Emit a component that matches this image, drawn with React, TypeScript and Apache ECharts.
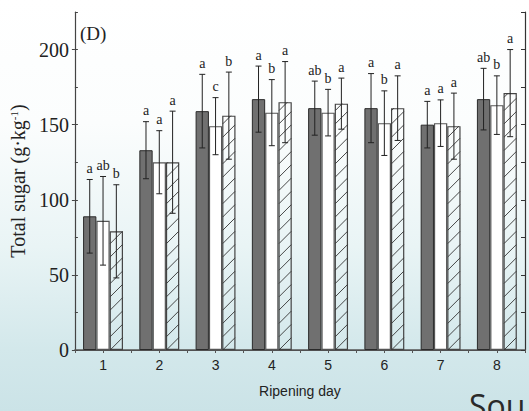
import React, { useEffect, useRef } from "react";
import * as echarts from "echarts";

const categories = ["1", "2", "3", "4", "5", "6", "7", "8"];
const darkValues = [89, 133, 159, 167, 161, 161, 150, 167];
const darkErr = [24.5, 19, 24.5, 22, 18, 23, 15.5, 20.5];
const darkLetters = ["a", "a", "a", "a", "ab", "a", "a", "ab"];
const whiteValues = [86, 125, 149, 158, 158, 151, 151, 163];
const whiteErr = [29.5, 21, 19, 22, 15.5, 21.5, 15.5, 19.5];
const whiteLetters = ["ab", "a", "c", "b", "b", "b", "a", "b"];
const hatchValues = [79, 125, 156, 165, 164, 161, 149, 171];
const hatchErr = [31, 34, 29, 27, 17, 21.5, 22, 29];
const hatchLetters = ["b", "a", "b", "a", "a", "a", "a", "a"];
const yTicks = [0, 50, 100, 150, 200];

const BW = 13.3;
const SERIF = '"Liberation Serif", "DejaVu Serif", serif';
const SANS = '"Liberation Sans", Arial, sans-serif';

function errorSeries(values: number[], errs: number[], letters: string[], k: number) {
  return {
    type: "custom",
    xAxisIndex: 0,
    yAxisIndex: 0,
    z: 5,
    clip: false,
    encode: { x: 0, y: [1, 2] },
    data: values.map((v, i) => [i, v - errs[i], v + errs[i]]),
    renderItem: (params: any, api: any) => {
      const idx = api.value(0);
      const lo = api.coord([idx, api.value(1)]);
      const hi = api.coord([idx, api.value(2)]);
      const x = lo[0] + (k - 1) * BW;
      const cap = 3;
      const st = { stroke: "#222", lineWidth: 1 };
      return {
        type: "group",
        children: [
          { type: "line", shape: { x1: x, y1: hi[1], x2: x, y2: lo[1] }, style: st },
          { type: "line", shape: { x1: x - cap, y1: hi[1], x2: x + cap, y2: hi[1] }, style: st },
          { type: "line", shape: { x1: x - cap, y1: lo[1], x2: x + cap, y2: lo[1] }, style: st },
          {
            type: "text",
            x: x,
            y: hi[1] - 4,
            style: {
              text: letters[params.dataIndex],
              textAlign: "center",
              textVerticalAlign: "bottom",
              font: `14px ${SERIF}`,
              fill: "#222",
            },
          },
        ],
      };
    },
  };
}

const hatchSeries = {
  type: "custom",
  xAxisIndex: 0,
  yAxisIndex: 0,
  z: 4,
  encode: { x: 0, y: 1 },
  data: hatchValues.map((v, i) => [i, v]),
  renderItem: (params: any, api: any) => {
    const idx = api.value(0);
    const base = api.coord([idx, 0]);
    const top = api.coord([idx, api.value(1)]);
    const xc = base[0] + BW;
    const x0 = xc - BW / 2 + 0.5;
    const x1 = xc + BW / 2 - 0.5;
    const yb = base[1];
    const yt = top[1];
    const s = BW;
    const children: any[] = [];
    for (let j = -2; j < 60; j++) {
      const c = x0 + yb - j * s;
      const xa = Math.max(x0, c - yb);
      const xb = Math.min(x1, c - yt);
      if (xb > xa + 0.3) {
        children.push({
          type: "line",
          shape: { x1: xa, y1: c - xa, x2: xb, y2: c - xb },
          style: { stroke: "#333", lineWidth: 0.9 },
        });
      }
    }
    return { type: "group", children };
  },
};

export default function App() {
  const ref = useRef<HTMLDivElement>(null);
  useEffect(() => {
    if (!ref.current) return;
    const chart = echarts.init(ref.current, undefined, { renderer: "svg" });
    chart.setOption({
      animation: false,
      backgroundColor: "transparent",
      grid: { left: 72, top: 12, right: 4, bottom: 61, containLabel: false },
      xAxis: [
        {
          type: "category",
          data: categories,
          position: "bottom",
          axisLine: { lineStyle: { color: "#444", width: 1.2 } },
          axisTick: { inside: true, length: 3, lineStyle: { color: "#444" } },
          axisLabel: { fontFamily: SANS, fontSize: 14, color: "#222", margin: 8 },
          name: "Ripening day",
          nameLocation: "middle",
          nameGap: 34,
          nameTextStyle: { fontFamily: SANS, fontSize: 14, color: "#222" },
          splitLine: { show: false },
        },
        {
          type: "value",
          position: "top",
          min: 0,
          max: 16,
          interval: 1,
          axisLine: { show: true, lineStyle: { color: "#555", width: 1.5 } },
          axisTick: { show: true, inside: true, length: 3, lineStyle: { color: "#555" } },
          axisLabel: { show: false },
          splitLine: { show: false },
        },
      ],
      yAxis: [
        {
          type: "value",
          min: 0,
          max: 225,
          interval: 50,
          position: "left",
          axisLine: { show: true, lineStyle: { color: "#444", width: 1.2 } },
          axisTick: { show: true, inside: false, length: 3, lineStyle: { color: "#444" } },
          axisLabel: {
            fontFamily: SERIF,
            fontSize: 20,
            color: "#222",
            margin: 6,
            showMaxLabel: false,
            formatter: (v: number) => (yTicks.indexOf(v) >= 0 ? String(v) : ""),
          },
          splitLine: { show: false },
          name: "{n|Total sugar (g·kg}{s|-1}{n|)}",
          nameLocation: "middle",
          nameGap: 46,
          nameTextStyle: {
            rich: {
              n: { fontFamily: SERIF, fontSize: 20, color: "#222" },
              s: { fontFamily: SERIF, fontSize: 11, color: "#222", verticalAlign: "top", padding: [0, 0, 6, 0] },
            },
          },
        },
        {
          type: "value",
          min: 0,
          max: 225,
          interval: 25,
          position: "left",
          axisLine: { show: false },
          axisTick: { show: true, inside: true, length: 3, lineStyle: { color: "#444" } },
          axisLabel: { show: false },
          splitLine: { show: false },
        },
        {
          type: "value",
          min: 0,
          max: 225,
          interval: 25,
          position: "right",
          axisLine: { show: true, lineStyle: { color: "#333", width: 1.2 } },
          axisTick: { show: true, inside: true, length: 4, lineStyle: { color: "#333" } },
          axisLabel: { show: false },
          splitLine: { show: false },
        },
      ],
      series: [
        {
          type: "bar",
          data: darkValues,
          barWidth: BW,
          barGap: "0%",
          itemStyle: { color: "#707070", borderColor: "#2a2a2a", borderWidth: 1 },
        },
        {
          type: "bar",
          data: whiteValues,
          barWidth: BW,
          barGap: "0%",
          itemStyle: { color: "#ffffff", borderColor: "#555", borderWidth: 1.2 },
        },
        {
          type: "bar",
          data: hatchValues,
          barWidth: BW,
          barGap: "0%",
          itemStyle: { color: "rgba(255,255,255,0)", borderColor: "#444", borderWidth: 1.2 },
        },
        hatchSeries,
        errorSeries(darkValues, darkErr, darkLetters, 0),
        errorSeries(whiteValues, whiteErr, whiteLetters, 1),
        errorSeries(hatchValues, hatchErr, hatchLetters, 2),
      ],
      graphic: [
        {
          type: "text",
          left: 80,
          top: 24,
          style: { text: "(D)", font: `19px ${SERIF}`, fill: "#222" },
        },
        {
          type: "text",
          left: 469,
          top: 389,
          style: { text: "Sou", font: `32px "Open Sans", sans-serif`, fill: "#2a2a2a" },
        },
      ],
    });
    return () => chart.dispose();
  }, []);
  return (
    <div
      style={{
        position: "fixed",
        left: 0,
        top: 0,
        width: 529,
        height: 411,
        background:
          "linear-gradient(to bottom, #ffffff 0%, #fbfdfd 30%, #e9f4f5 60%, #d3e8eb 85%, #cbe3e7 100%)",
      }}
    >
      <div ref={ref} style={{ width: 529, height: 411 }} />
    </div>
  );
}
